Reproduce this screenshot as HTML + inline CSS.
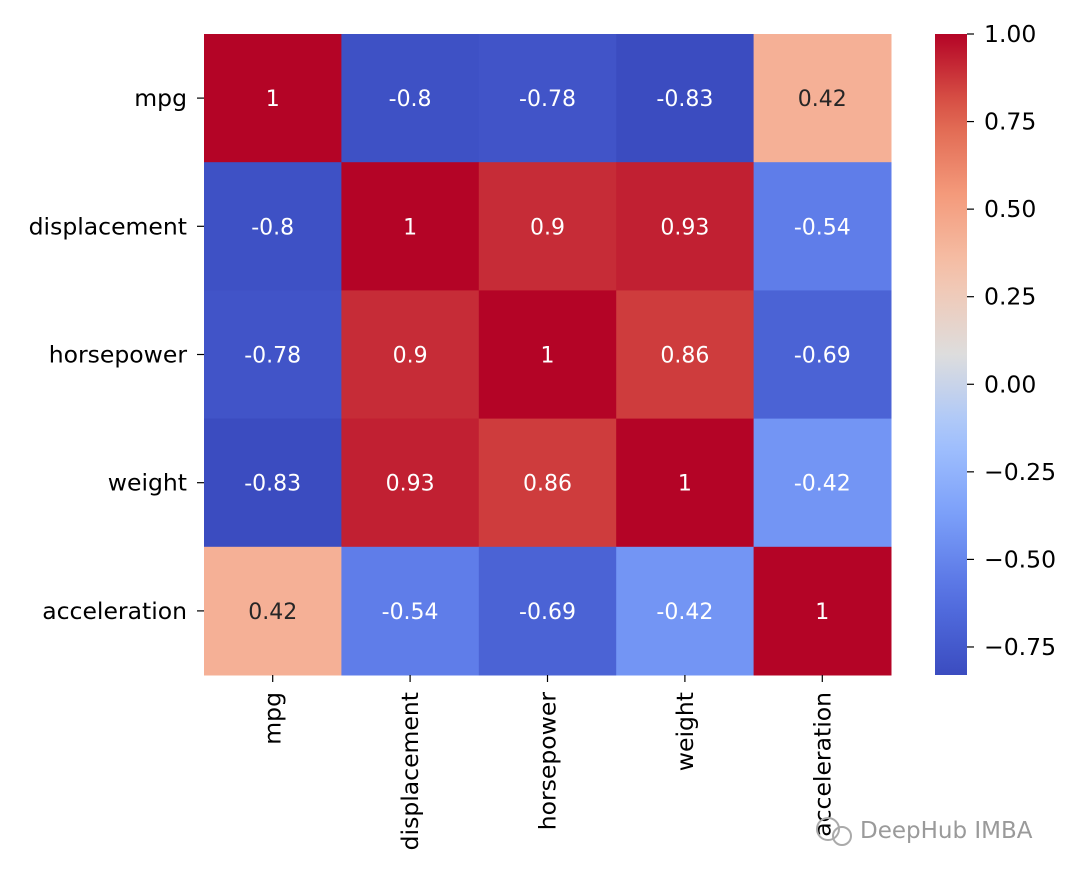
<!DOCTYPE html>
<html><head><meta charset="utf-8"><style>
body{margin:0;background:#fff;}
svg text{font-family:"DejaVu Sans","Liberation Sans",sans-serif;}
</style></head><body>
<svg id="chart" width="1080" height="880" xmlns="http://www.w3.org/2000/svg">
<defs><linearGradient id="cbgrad" x1="0" y1="1" x2="0" y2="0"></linearGradient></defs>
<g id="cells"></g><g id="ylabels"></g><g id="xlabels"></g><g id="cbar"></g>
<g>
<text x="860" y="838" font-size="23" fill="#9a9a9a">DeepHub IMBA</text>
<circle cx="828" cy="829" r="11" fill="none" stroke="#aaa" stroke-width="2"/>
<circle cx="842" cy="836" r="9" fill="none" stroke="#aaa" stroke-width="2"/>
</g>
</svg>
<script>
const labels = ["mpg","displacement","horsepower","weight","acceleration"];
const matrix = [
 [1,-0.8,-0.78,-0.83,0.42],
 [-0.8,1,0.9,0.93,-0.54],
 [-0.78,0.9,1,0.86,-0.69],
 [-0.83,0.93,0.86,1,-0.42],
 [0.42,-0.54,-0.69,-0.42,1]
];
const cbTicks = [1.00,0.75,0.50,0.25,0.00,-0.25,-0.50,-0.75];
const vmin=-0.83, vmax=1.0;
const X0=204,X1=891,Y0=34,Y1=675;
const FS=22, LFS=23.5;
const cw=(X1-X0)/labels.length, ch=(Y1-Y0)/labels.length;
const stops=[[0,[59,76,192]],[0.125,[85,113,227]],[0.25,[123,159,249]],[0.375,[165,196,254]],[0.5,[221,221,221]],[0.625,[245,196,173]],[0.75,[244,154,123]],[0.875,[222,96,76]],[1,[180,4,38]]];
function cmap(t){t=Math.max(0,Math.min(1,t));for(let i=1;i<stops.length;i++){if(t<=stops[i][0]){const a=stops[i-1],b=stops[i],f=(t-a[0])/(b[0]-a[0]);const c=a[1].map((v,k)=>Math.round(v+(b[1][k]-v)*f));return `rgb(${c})`;}}return 'rgb(180,4,38)';}
const norm=v=>(v-vmin)/(vmax-vmin);
const NS="http://www.w3.org/2000/svg";
function mk(tag,attrs,parent,txt){const e=document.createElementNS(NS,tag);for(const k in attrs)e.setAttribute(k,attrs[k]);if(txt!==undefined)e.textContent=txt;parent.appendChild(e);return e;}
const cells=document.getElementById('cells');
matrix.forEach((row,i)=>row.forEach((v,j)=>{
 const r=mk('rect',{x:X0+j*cw,y:Y0+i*ch,width:cw+0.5,height:ch+0.5,fill:cmap(norm(v))},cells);
 
 
 const t=mk('text',{x:X0+(j+0.5)*cw,y:Y0+(i+0.5)*ch+8,'font-size':FS,'text-anchor':'middle',fill:(norm(v)>0.6&&norm(v)<0.75)?'#262626':'#fff'},cells,String(v));
 
 
}));
const yl=document.getElementById('ylabels'), xl=document.getElementById('xlabels');
labels.forEach((l,i)=>{
 const y=Y0+(i+0.5)*ch;
 mk('line',{x1:X0-7,x2:X0,y1:y,y2:y,stroke:'#000','stroke-width':1.2},yl);
 const t=mk('text',{x:X0-17,y:y+8,'font-size':LFS,'text-anchor':'end',fill:'#000'},yl,l);
 
 
 const x=X0+(i+0.5)*cw;
 mk('line',{x1:x,x2:x,y1:Y1,y2:Y1+7,stroke:'#000','stroke-width':1.2},xl);
 const tx=mk('text',{x:0,y:0,'font-size':LFS,'text-anchor':'end',fill:'#000',transform:`translate(${x+8},${Y1+17}) rotate(-90)`},xl,l);
 
 
});
const g=document.getElementById('cbgrad');
for(let k=0;k<=20;k++){mk('stop',{offset:k/20,'stop-color':cmap(k/20)},g);}
const cb=document.getElementById('cbar');
const CX=935,CW=32;
const bar=mk('rect',{x:CX,y:Y0,width:CW,height:Y1-Y0,fill:'url(#cbgrad)'},cb);


const cy=v=>Y1-(v-vmin)/(vmax-vmin)*(Y1-Y0);
cbTicks.forEach(v=>{
 const y=cy(v);
 mk('line',{x1:CX+CW,x2:CX+CW+7,y1:y,y2:y,stroke:'#000','stroke-width':1.2},cb);
 const t=mk('text',{x:CX+CW+17,y:y+8,'font-size':LFS,fill:'#000'},cb,(v<0?'\u2212':'')+Math.abs(v).toFixed(2));
 
 
});
</script>
</body></html>
